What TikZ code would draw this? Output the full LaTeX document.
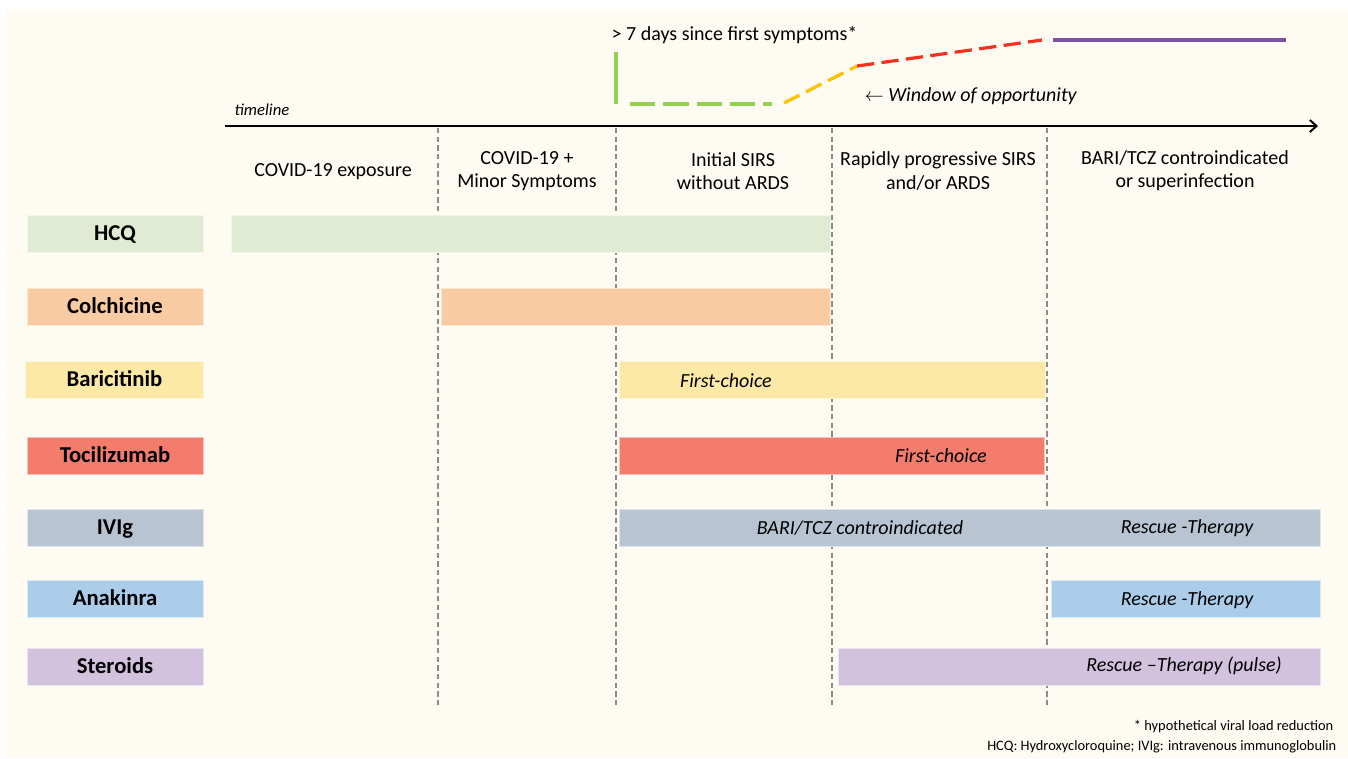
\documentclass[tikz,border=0pt]{standalone}
\usepackage{fontspec}
\setmainfont{Carlito}
\usetikzlibrary{arrows.meta}
\definecolor{paper}{HTML}{FEFBF2}
\definecolor{hcqc}{HTML}{DFEBD3}
\definecolor{colc}{HTML}{F8CBA2}
\definecolor{baric}{HTML}{FDE9A6}
\definecolor{tocic}{HTML}{F37C6D}
\definecolor{ivigc}{HTML}{B8C4D1}
\definecolor{anakc}{HTML}{ABCDEA}
\definecolor{sterc}{HTML}{D2C2DD}
\definecolor{phasegray}{HTML}{8C8C8C}
\definecolor{curvegreen}{HTML}{92D050}
\definecolor{curveyellow}{HTML}{FFC000}
\definecolor{curvered}{HTML}{F5301E}
\definecolor{curvepurple}{HTML}{7B52A3}
\begin{document}
\begin{tikzpicture}[x=0.75pt,y=-0.75pt,
  drugbox/.style={draw=white!55!#1, fill=#1, line width=0.5pt, minimum width=132pt,
    minimum height=27.75pt, inner sep=0pt, text height=11pt, text depth=0pt,
    font=\fontsize{17}{19}\selectfont\bfseries},
  barbox/.style={draw=white!55!#1, fill=#1, line width=0.5pt, minimum height=27.75pt,
    inner sep=0pt, anchor=west},
  bartext/.style={font=\fontsize{15}{17}\selectfont\itshape},
  phase/.style={align=center, font=\fontsize{15}{17.4}\selectfont},
  sep/.style={phasegray, line width=1.1pt, dash pattern=on 4pt off 2.5pt},
  curve/.style={line width=2.4pt, dash pattern=on 13pt off 5.5pt}]
\useasboundingbox (0,0) rectangle (1348,758);
\fill[paper] (6,9) rectangle (1348,758);

% timeline
\coordinate (t0) at (225,126);
\coordinate (t1) at (1318,126);
\draw[line width=1.3pt, -{Straight Barb[length=5pt,width=9pt,line width=1.5pt]}] (t0) -- (t1);
\node[font=\fontsize{12.5}{14}\selectfont\itshape, anchor=west] (tl) at (230,110) {timeline};

% phase separators
\foreach \xx/\nm in {438/a,616/b,832/c,1047/d}{
  \coordinate (s\nm0) at (\xx,128);
  \coordinate (s\nm1) at (\xx,708);
  \draw[sep] (s\nm0) -- (s\nm1);
}

\node[phase] (p1) at (333,172) {COVID-19 exposure};
\node[phase] (p2) at (527,171) {COVID-19 +\\Minor Symptoms};
\node[phase] (p3) at (733,171) {Initial SIRS\\without ARDS};
\node[phase] (p4) at (938,171) {Rapidly progressive SIRS\\and/or ARDS};
\node[phase] (p5) at (1185,171) {BARI/TCZ controindicated\\or superinfection};

% viral load curve
\coordinate (g0) at (616,52);
\coordinate (g1) at (616,104);
\coordinate (g2) at (630,104);
\coordinate (g3) at (772,104);
\coordinate (y0) at (784,103);
\coordinate (y1) at (857,66);
\coordinate (r1) at (1042,40);
\coordinate (v0) at (1053,40);
\coordinate (v1) at (1286,40);
\draw[curvegreen, line width=3pt] (g0) -- (g1);
\draw[curve, curvegreen, dash pattern=on 19pt off 6pt] (g2) -- (g3);
\draw[curve, curveyellow] (y0) -- (y1);
\draw[curve, curvered] (y1) -- (r1);
\draw[curvepurple, line width=2.4pt] (v0) -- (v1);
\node[font=\fontsize{15}{17}\selectfont, anchor=west] (days) at (607,35) {> 7 days since first symptoms*};
\node[font=\fontsize{15}{17}\selectfont\itshape, anchor=west] (woo) at (860,96) {$\leftarrow$ Window of opportunity};

% drugs
\node[drugbox=hcqc] (hcq) at (115,233.5) {HCQ};
\node[drugbox=colc] (col) at (115,306.5) {Colchicine};
\node[drugbox=baric, minimum width=133.5pt] (bar) at (114.5,379.5) {Baricitinib};
\node[drugbox=tocic] (toc) at (115,455.5) {Tocilizumab};
\node[drugbox=ivigc] (ivi) at (115,527.5) {IVIg};
\node[drugbox=anakc] (ana) at (115,598.5) {Anakinra};
\node[drugbox=sterc] (ste) at (115,666.5) {Steroids};

% bars
\node[barbox=hcqc, minimum width=599*0.75pt] (hcqbar) at (231,233.5) {};
\node[barbox=colc, minimum width=389*0.75pt] (colbar) at (441,306.5) {};
\node[barbox=baric, minimum width=426*0.75pt] (barbar) at (619,379.5) {};
\node[barbox=tocic, minimum width=425*0.75pt] (tocbar) at (619,455.5) {};
\node[barbox=ivigc, minimum width=701*0.75pt] (ivibar) at (619,527.5) {};
\node[barbox=anakc, minimum width=269*0.75pt] (anabar) at (1051,598.5) {};
\node[barbox=sterc, minimum width=482*0.75pt] (stebar) at (838,666.5) {};

\node[bartext] (barfirst) at (726,381) {First-choice};
\node[bartext] (tocfirst) at (941,456) {First-choice};
\node[bartext] (ivicontra) at (860,528) {BARI/TCZ controindicated};
\node[bartext] (ivirescue) at (1187,528) {Rescue -Therapy};
\node[bartext] (anarescue) at (1187,600) {Rescue -Therapy};
\node[bartext] (sterescue) at (1184,666) {Rescue –Therapy (pulse)};

% notes
\node[font=\fontsize{10.8}{12}\selectfont, anchor=east] (note1) at (1338,727) {* hypothetical viral load reduction};
\node[font=\fontsize{10.8}{12}\selectfont, anchor=east] (note2) at (1341,747) {HCQ: Hydroxycloroquine; IVIg: intravenous immunoglobulin};
\end{tikzpicture}
\end{document}
